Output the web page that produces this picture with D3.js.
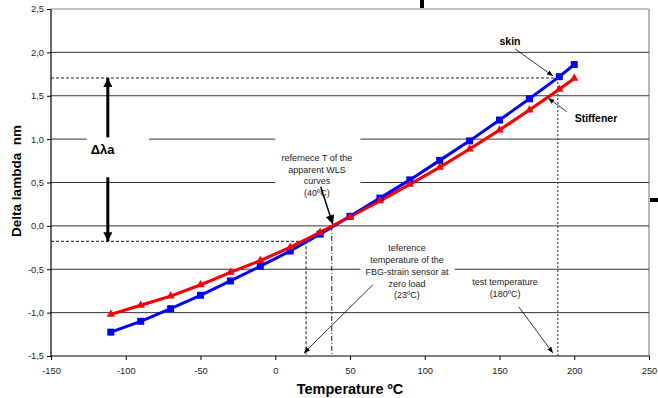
<!DOCTYPE html>
<html>
<head>
<meta charset="utf-8">
<script src="https://cdn.jsdelivr.net/npm/d3@7"></script>
<style>
  body { margin: 0; background: #fff; }
  svg { display: block; font-family: Arial, "Liberation Sans", sans-serif; }
</style>
</head>
<body>
<div id="chart"></div>
<script>
// ---------------- data ----------------
const temps = [-110, -90, -70, -50, -30, -10, 10, 30, 50, 70, 90, 110, 130, 150, 170, 190, 200];
const skin = [-1.225, -1.10, -0.955, -0.80, -0.635, -0.465, -0.29, -0.095, 0.11, 0.32, 0.53, 0.755, 0.98, 1.22, 1.465, 1.72, 1.86];
const stiffener = [-1.02, -0.915, -0.81, -0.68, -0.535, -0.40, -0.247, -0.075, 0.105, 0.288, 0.478, 0.675, 0.886, 1.105, 1.336, 1.575, 1.70];
const xTicks = [-150, -100, -50, 0, 50, 100, 150, 200, 250];
const yTicks = [-1.5, -1.0, -0.5, 0.0, 0.5, 1.0, 1.5, 2.0, 2.5];

// reference lines (data units)
const testT = 189, testLambda = 1.705;
const zeroLoadT = 20.6, zeroLoadLambda = -0.178;
const apparentT = 37.8;

// ---------------- setup ----------------
const width = 658, height = 398;
const svg = d3.select("#chart").append("svg").attr("width", width).attr("height", height);

const x = d3.scaleLinear().domain([-150, 250]).range([51, 649]);
const y = d3.scaleLinear().domain([-1.5, 2.5]).range([356, 9]);
const fmt = d => d3.format(".1f")(d).replace(".", ",").replace("−", "-");

const defs = svg.append("defs");
function marker(id, w, h) {
  defs.append("marker").attr("id", id)
    .attr("viewBox", `0 0 ${w} ${h}`).attr("refX", w).attr("refY", h / 2)
    .attr("markerWidth", w).attr("markerHeight", h)
    .attr("markerUnits", "userSpaceOnUse").attr("orient", "auto")
    .append("path").attr("d", `M0,0L${w},${h / 2}L0,${h}Z`).attr("fill", "#000");
}
marker("bigHead", 9, 9);
marker("smallHead", 6, 5);

// plot frame (top/right grey)
svg.append("line").attr("x1", x(-150)).attr("x2", x(250)).attr("y1", y(2.5)).attr("y2", y(2.5))
  .attr("stroke", "#888").attr("stroke-width", 1.2);
svg.append("line").attr("x1", x(250)).attr("x2", x(250)).attr("y1", y(2.5)).attr("y2", y(-1.5))
  .attr("stroke", "#888").attr("stroke-width", 1.2);

// gridlines
svg.append("g").selectAll("line")
  .data(yTicks.filter(d => d > -1.5 && d < 2.5))
  .join("line")
  .attr("x1", x(-150)).attr("x2", x(250))
  .attr("y1", d => y(d)).attr("y2", d => y(d))
  .attr("stroke", "#333").attr("stroke-width", 1);

// axes
const yAxis = svg.append("g").attr("transform", `translate(${x(-150)},0)`)
  .call(d3.axisLeft(y).tickValues(yTicks).tickFormat(fmt).tickSize(4).tickPadding(3));
const xAxis = svg.append("g").attr("transform", `translate(0,${y(-1.5)})`)
  .call(d3.axisBottom(x).tickValues(xTicks).tickFormat(d => String(d)).tickSize(4).tickPadding(7));
[yAxis, xAxis].forEach(a => {
  a.select(".domain").attr("stroke", "#000").attr("stroke-width", 1.2);
  a.selectAll(".tick line").attr("stroke", "#000");
  a.selectAll(".tick text").attr("font-size", 9.3).attr("fill", "#222")
    .attr("font-family", "Arial, 'Liberation Sans', sans-serif");
});
xAxis.select(".domain").attr("d", `M${x(-150)},0H${x(250)}`);
yAxis.select(".domain").attr("d", `M0,${y(2.5)}V${y(-1.5)}`);

// axis titles
svg.append("text").attr("x", x(50)).attr("y", 394).attr("text-anchor", "middle")
  .attr("font-size", 14.5).attr("font-weight", "bold").text("Temperature ºC");
svg.append("text").attr("transform", `translate(21,181) rotate(-90)`).attr("text-anchor", "middle")
  .attr("font-size", 13.5).attr("font-weight", "bold").attr("xml:space", "preserve").text("Delta lambda  nm");

// reference dashed lines
const ref = svg.append("g").attr("fill", "none");
ref.append("path").attr("d", `M${x(-150)},${y(testLambda)}H${x(testT)}`)
  .attr("stroke", "#222").attr("stroke-dasharray", "3,2");
ref.append("path").attr("d", `M${x(testT)},${y(testLambda)}V${y(-1.5)}`)
  .attr("stroke", "#555").attr("stroke-width", 1.3).attr("stroke-dasharray", "2,2");
ref.append("path").attr("d", `M${x(-150)},${y(zeroLoadLambda)}H${x(zeroLoadT)}V${y(-1.5)}`)
  .attr("stroke", "#111").attr("stroke-dasharray", "3,2");
ref.append("path").attr("d", `M${x(apparentT)},${y(0)}V${y(-1.5)}`)
  .attr("stroke", "#111").attr("stroke-dasharray", "5,2,1,2");

// white label boxes that cut gridlines
const boxes = [
  { t0: -126, t1: -84.5, v0: 0.56, v1: 1.02 },
  { t0: 0, t1: 57, v0: 0.47, v1: 1.10 },
  { t0: 57, t1: 120, v0: -0.85, v1: -0.17 }
];

// data series
const line = d3.line().x((d, i) => x(temps[i])).y(d => y(d));
svg.append("path").datum(stiffener).attr("d", line)
  .attr("fill", "none").attr("stroke", "#ff0000").attr("stroke-width", 3);
svg.append("path").datum(skin).attr("d", line)
  .attr("fill", "none").attr("stroke", "#0000ff").attr("stroke-width", 3);
svg.append("path").datum(stiffener).attr("d", line)
  .attr("fill", "none").attr("stroke", "#ff0000").attr("stroke-width", 2.5);

svg.append("g").selectAll("rect").data(skin).join("rect")
  .attr("x", (d, i) => x(temps[i]) - 3.5).attr("y", d => y(d) - 3.5)
  .attr("width", 7).attr("height", 7).attr("fill", "#0000ff");
const tri = d3.symbol().type(d3.symbolTriangle).size(30);
svg.append("g").selectAll("path").data(stiffener).join("path")
  .attr("transform", (d, i) => `translate(${x(temps[i])},${y(d)})`)
  .attr("d", tri).attr("fill", "#ff0000");

svg.append("g").selectAll("rect").data(boxes).join("rect")
  .attr("x", d => x(d.t0)).attr("width", d => x(d.t1) - x(d.t0))
  .attr("y", d => y(d.v1)).attr("height", d => y(d.v0) - y(d.v1))
  .attr("fill", "#fff");

// delta lambda double arrow
const arrowT = -112;
svg.append("line").attr("x1", x(arrowT)).attr("x2", x(arrowT))
  .attr("y1", y(1.02)).attr("y2", y(testLambda))
  .attr("stroke", "#000").attr("stroke-width", 3).attr("marker-end", "url(#bigHead)");
svg.append("line").attr("x1", x(arrowT)).attr("x2", x(arrowT))
  .attr("y1", y(0.56)).attr("y2", y(zeroLoadLambda))
  .attr("stroke", "#000").attr("stroke-width", 3).attr("marker-end", "url(#bigHead)");
svg.append("text").attr("x", x(-115.5)).attr("y", y(0.886) + 5).attr("text-anchor", "middle")
  .attr("font-size", 13).attr("font-weight", "bold").text("Δλa");

// annotation texts
const notes = [
  { t: 27.9, v: 0.79, lines: ["refernece T of the", "apparent WLS", "curves", "(40ºC)"], size: 9, bold: false },
  { t: 88.1, v: -0.255, lines: ["teference", "temperature of the", "FBG-strain sensor at", "zero load", "(23ºC)"], size: 9, bold: false },
  { t: 153.7, v: -0.64, lines: ["test temperature", "(180ºC)"], size: 9, bold: false },
  { t: 157, v: 2.12, lines: ["skin"], size: 10.5, bold: true },
  { t: 214.5, v: 1.232, lines: ["Stiffener"], size: 10.5, bold: true }
];
notes.forEach(n => {
  const lh = n.size === 9 ? 11.7 : 12;
  const t = svg.append("text").attr("text-anchor", "middle").attr("font-size", n.size)
    .attr("font-weight", n.bold ? "bold" : "normal").attr("fill", n.bold ? "#000" : "#222");
  n.lines.forEach((s, i) => {
    t.append("tspan").attr("x", x(n.t)).attr("y", y(n.v) + 3.5 + i * lh).text(s);
  });
});

// annotation arrows
const arrows = [
  { from: [30.4, 0.45], to: [38.5, 0.02], w: 1.5, head: "bigHead" },
  { from: [65.2, -0.68], to: [19.2, -1.465], w: 0.8, head: "smallHead" },
  { from: [163, -0.935], to: [185.7, -1.465], w: 0.8, head: "smallHead" },
  { from: [160.4, 2.04], to: [185.8, 1.728], w: 0.8, head: "smallHead" },
  { from: [195, 1.316], to: [182.6, 1.471], w: 0.8, head: "smallHead" }
];
svg.append("g").selectAll("line").data(arrows).join("line")
  .attr("x1", d => x(d.from[0])).attr("y1", d => y(d.from[1]))
  .attr("x2", d => x(d.to[0])).attr("y2", d => y(d.to[1]))
  .attr("stroke", "#000").attr("stroke-width", d => d.w)
  .attr("marker-end", d => `url(#${d.head})`);

// stray marks from the original figure edges
svg.append("rect").attr("x", 420).attr("y", 0).attr("width", 4).attr("height", y(2.5) - 1).attr("fill", "#000");
svg.append("rect").attr("x", x(250) + 1).attr("y", 198).attr("width", 9).attr("height", 4).attr("fill", "#000");
</script>
</body>
</html>
